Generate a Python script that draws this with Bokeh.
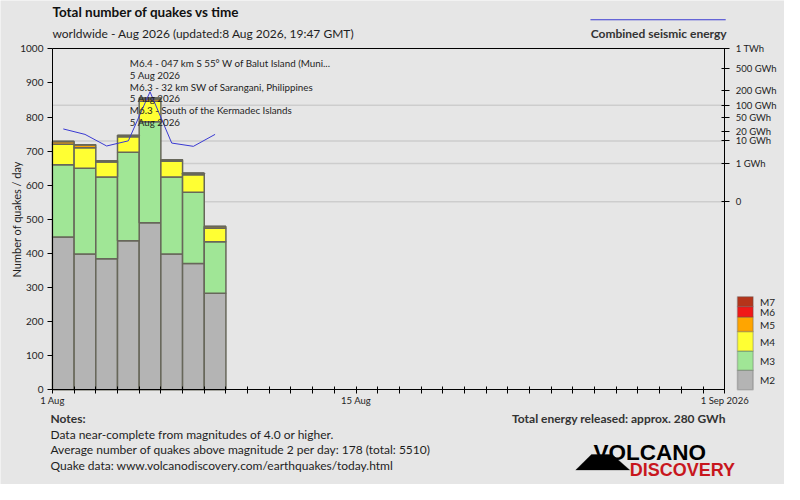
import math
from bokeh.plotting import figure
from bokeh.models import (Range1d, LinearAxis, FixedTicker, ColumnDataSource, Label,
                          PolyAnnotation, BoxAnnotation)
from bokeh.embed import file_html
from bokeh.resources import INLINE

# ---------------- data ----------------
dates = ["2026-08-01", "2026-08-02", "2026-08-03", "2026-08-04",
         "2026-08-05", "2026-08-06", "2026-08-07", "2026-08-08"]
m2 = [448, 398, 384, 437, 490, 398, 370, 283]
m3 = [212, 252, 240, 260, 296, 226, 209, 151]
m4 = [60, 60, 44, 45, 60, 46, 52, 40]
m5 = [8, 9, 4, 4, 7, 5, 4, 5]
m6 = [0, 0, 0, 0, 3, 0, 0, 0]
m7 = [0, 0, 0, 0, 0, 0, 0, 0]
energy_gwh = [24.6, 16.7, 6.5, 10.1, 193.0, 8.4, 6.3, 16.7]

mag_labels = ["M2", "M3", "M4", "M5", "M6", "M7"]
mag_colors = ["#b4b4b4", "#a0e696", "#ffff33", "#ffa500", "#f01818", "#b5341a"]

n_days = 31
x_tick_labels = {0: "1 Aug", 14: "15 Aug", 31: "1 Sep 2026"}
y_ticks = list(range(0, 1001, 100))
energy_ticks_gwh = [0, 1, 10, 20, 50, 100, 200, 500, 1000]
energy_tick_labels = ["0", "1 GWh", "10 GWh", "20 GWh", "50 GWh", "100 GWh",
                      "200 GWh", "500 GWh", "1 TWh"]
energy_grid_gwh = [0, 1, 10, 100]

events = ["M6.4 - 047 km S 55° W of Balut Island (Muni...", "5 Aug 2026",
          "M6.3 - 32 km SW of Sarangani, Philippines", "5 Aug 2026",
          "M6.3 - South of the Kermadec Islands", "5 Aug 2026"]

title = "Total number of quakes vs time"
subtitle = "worldwide - Aug 2026 (updated:8 Aug 2026, 19:47 GMT)"
notes = ["Data near-complete from magnitudes of 4.0 or higher.",
         "Average number of quakes above magnitude 2 per day: 178 (total: 5510)",
         "Quake data: www.volcanodiscovery.com/earthquakes/today.html"]
total_energy = "Total energy released: approx. 280 GWh"

# ---------------- layout helpers ----------------
BG = "#e6e6e6"
FONT = "Lato"
TXT = "#1e1e1e"
W, H = 784, 484
KX, KY = W / 800.0, H / 500.0


def cx(X):  # reference px -> canvas x (from left)
    return X * KX


def cy(Y):  # reference px -> canvas y (from bottom)
    return H - Y * KY


def pw(e):  # energy axis scale: fifth root
    return e ** 0.2


# frame of the chart in canvas px
FL, FR = cx(53), cx(739)
FT, FB = 50 * KY, 402 * KY
dpp = n_days / (FR - FL)
upp = 1000.0 / (FB - FT)
x_range = Range1d(-FL * dpp, n_days + (W - FR) * dpp)
y_range = Range1d(-(H - FB) * upp, 1000 + FT * upp)

# energy axis: 0 sits at the 551 quakes/day level, 1 TWh at the top (1000)
E_TOP = pw(1000)
ZERO_LEVEL = 551.1
eb = E_TOP / (1000 - ZERO_LEVEL)
ea = -ZERO_LEVEL * eb
energy_range = Range1d(ea + eb * y_range.start, ea + eb * y_range.end)

day_index = list(range(len(dates)))
xc = [d + 0.5 for d in day_index]
source = ColumnDataSource(dict(x=xc, M2=m2, M3=m3, M4=m4, M5=m5, M6=m6, M7=m7))

p = figure(width=W, height=H, x_range=x_range, y_range=y_range,
           x_axis_type=None, y_axis_type=None,
           output_backend="svg", toolbar_location=None,
           min_border=0, min_border_left=0, min_border_right=0,
           min_border_top=0, min_border_bottom=0,
           background_fill_color=BG, border_fill_color=BG, outline_line_color=None)
p.extra_y_ranges = {"energy": energy_range}

# energy guide lines
gy = [pw(v) for v in energy_grid_gwh]
p.segment(x0=[0] * len(gy), x1=[n_days] * len(gy), y0=gy, y1=gy, y_range_name="energy",
          line_color="#cdcdcd", line_width=1.5)

# stacked bars
OUTLINE = "#67675a"
bars = p.vbar_stack(mag_labels, x="x", width=1, source=source, fill_color=mag_colors,
                    line_color=OUTLINE, line_width=1.5)

# energy line
ENERGY_BLUE = "#3a3ad2"
eline = p.line(x=xc, y=[pw(e) for e in energy_gwh], y_range_name="energy",
               line_color=ENERGY_BLUE, line_width=1)

# axes (fixed to the chart area)
AX = dict(axis_line_color="black", major_tick_line_color="black",
          minor_tick_line_color=None, major_label_text_font=FONT,
          major_label_text_color=TXT)

xa = LinearAxis(fixed_location=0, bounds=(0, n_days),
                ticker=FixedTicker(ticks=list(range(0, n_days + 1))),
                major_label_overrides={i: x_tick_labels.get(i, "") for i in range(0, n_days + 1)},
                major_tick_in=3, major_tick_out=4, major_label_standoff=1,
                major_label_text_font_size="9.5px", **AX)
p.add_layout(xa, "below")

ya = LinearAxis(fixed_location=0, bounds=(0, 1000), ticker=FixedTicker(ticks=y_ticks),
                major_tick_in=0, major_tick_out=5, major_label_standoff=4,
                major_label_text_font_size="10px", **AX)
p.add_layout(ya, "left")

ra = LinearAxis(y_range_name="energy", fixed_location=n_days, bounds=(ea, E_TOP),
                ticker=FixedTicker(ticks=[pw(v) for v in energy_ticks_gwh]),
                major_label_overrides={pw(v): t for v, t in zip(energy_ticks_gwh, energy_tick_labels)},
                major_tick_in=3, major_tick_out=5, major_label_standoff=6,
                major_label_text_font_size="9.5px", **AX)
p.add_layout(ra, "right")

ta = LinearAxis(fixed_location=1000, bounds=(0, n_days), ticker=FixedTicker(ticks=[]),
                major_label_text_font_size="0px", **AX)
p.add_layout(ta, "above")


def lab(text, X, Y, size, bold=False, align="left", color=TXT, angle=0.0, font=FONT,
        baseline="middle"):
    p.add_layout(Label(x=cx(X), y=cy(Y), x_units="screen", y_units="screen", text=text,
                       text_font=font, text_font_size=f"{size}px",
                       text_font_style="bold" if bold else "normal",
                       text_align=align, text_baseline=baseline, text_color=color,
                       angle=angle))


# magnitude key: contiguous swatches, M2 at the bottom (ref px edges)
key_edges = [402, 382, 362, 342, 327, 316, 306]
for i, (m, col) in enumerate(zip(mag_labels, mag_colors)):
    y_lo, y_hi = key_edges[i], key_edges[i + 1]
    p.add_layout(BoxAnnotation(left=cx(752), right=cx(768), bottom=cy(y_lo), top=cy(y_hi),
                               left_units="screen", right_units="screen",
                               bottom_units="screen", top_units="screen",
                               fill_color=col, fill_alpha=1, line_color="#555555",
                               line_width=1.5))
    lab(m, 775, (y_lo + y_hi) / 2.0 + 0.5, 10)

# energy line key sample
p.add_layout(BoxAnnotation(left=cx(602), right=cx(740), bottom=cy(20) - 0.5, top=cy(20) + 0.5,
                           left_units="screen", right_units="screen",
                           bottom_units="screen", top_units="screen",
                           fill_color=ENERGY_BLUE, fill_alpha=1, line_color=None))

lab(title, 53, 12, 13.5, bold=True, color="#111111")
lab(subtitle, 53, 34, 12)
lab("Combined seismic energy", 741, 34, 12, bold=True, align="right", color="#333333")
lab("Number of quakes / day", 16, 226, 11, align="center", angle=math.pi / 2)

for i, t in enumerate(events):
    lab(t, 132, 65 + i * 12, 9.8)

lab("Notes:", 51, 432, 12, bold=True, color="#333333")
for i, t in enumerate(notes):
    lab(t, 51, 448 + i * 16, 12)
lab(total_energy, 740, 432, 12, bold=True, align="right", color="#333333")

# logo
p.add_layout(PolyAnnotation(xs=[cx(587), cx(603), cx(624), cx(642)],
                            ys=[cy(485), cy(469), cy(469), cy(485)],
                            xs_units="screen", ys_units="screen",
                            fill_color="black", fill_alpha=1, line_color="black"))
lab("VOLCANO", 605, 467, 22.5, bold=True, color="black", font="Liberation Sans",
    baseline="alphabetic")
lab("DISCOVERY", 642, 485, 18, bold=True, color="#c8161d", font="Liberation Sans",
    baseline="alphabetic")

open("out.html", "w").write(file_html(p, INLINE))
